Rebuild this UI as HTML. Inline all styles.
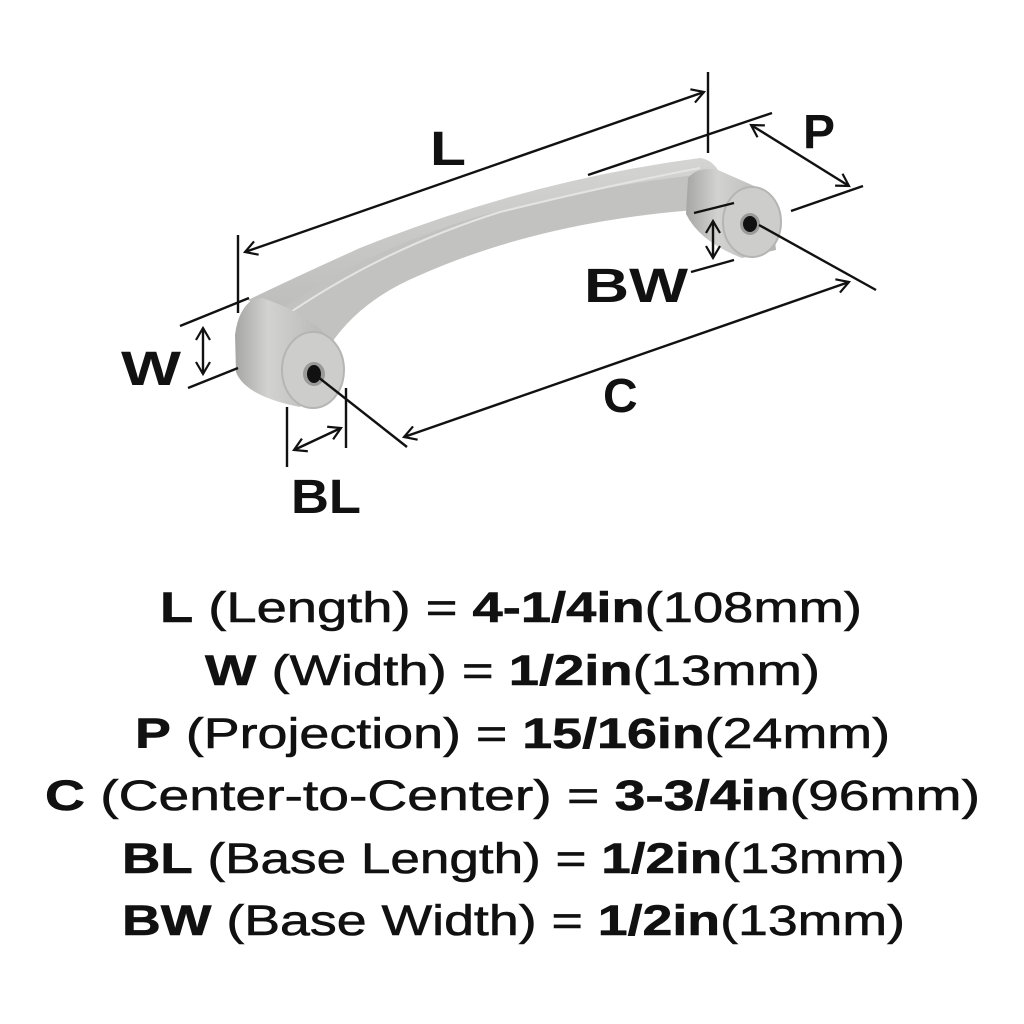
<!DOCTYPE html>
<html><head><meta charset="utf-8"><style>
html,body{margin:0;padding:0;background:#fff}
svg{display:block}
</style></head><body>
<svg width="1024" height="1024" viewBox="0 0 1024 1024" xmlns="http://www.w3.org/2000/svg">
<defs>
<linearGradient id="bar" x1="0" y1="0" x2="0" y2="1">
<stop offset="0" stop-color="#d4d4d2"/><stop offset="1" stop-color="#b8b8b6"/>
</linearGradient>
<linearGradient id="post" x1="0" y1="0" x2="1" y2="0">
<stop offset="0" stop-color="#a6a6a4"/><stop offset="0.35" stop-color="#d2d2d0"/><stop offset="1" stop-color="#b6b6b4"/>
</linearGradient>
<marker id="ah" markerWidth="16" markerHeight="16" refX="13" refY="8" orient="auto-start-reverse" markerUnits="userSpaceOnUse">
<path d="M1,1 L13,8 L1,15" fill="none" stroke="#111" stroke-width="2.2"/>
</marker>
</defs>
<!-- handle bar -->
<path d="M248,300 Q300,275 360,248 Q530,180 700,158 Q715,160 722,178 L700,206 Q540,222 420,275 Q360,300 330,345 L300,330 Z" fill="url(#bar)"/>
<path d="M272,316 Q360,252 480,216 Q600,185 705,174 L695,210 Q540,222 420,275 Q360,300 330,345 Z" fill="#c2c2c0"/>
<path d="M282,318 Q380,250 500,212 Q610,185 700,168" fill="none" stroke="#e4e4e2" stroke-width="2"/>
<!-- right post -->
<path d="M688,178 Q698,166 718,170 L770,193 L776,250 L742,258 Q700,242 686,214 Z" fill="url(#post)"/>
<ellipse cx="752" cy="222" rx="29" ry="35" fill="#cdcdcb" stroke="#b5b5b3" stroke-width="2"/>
<ellipse cx="750" cy="224" rx="10" ry="11" fill="#9a9a98"/>
<ellipse cx="750" cy="224" rx="7" ry="8" fill="#111"/>
<!-- left post -->
<path d="M252,300 Q238,310 235,335 L236,372 Q245,396 300,407 L330,340 Q310,314 262,298 Z" fill="url(#post)"/>
<ellipse cx="313" cy="370" rx="31" ry="38" fill="#cdcdcb" stroke="#b5b5b3" stroke-width="2"/>
<ellipse cx="314" cy="374" rx="11" ry="12" fill="#9a9a98"/>
<ellipse cx="314" cy="374" rx="7" ry="9" fill="#111"/>
<g stroke="#111" stroke-width="2.4" fill="none">
<line x1="245" y1="252" x2="704" y2="92" marker-start="url(#ah)" marker-end="url(#ah)"/>
<line x1="238" y1="235" x2="238" y2="313"/>
<line x1="708" y1="72" x2="708" y2="153"/>
<line x1="588" y1="175" x2="772" y2="113"/>
<line x1="751" y1="125" x2="849" y2="186" marker-start="url(#ah)" marker-end="url(#ah)"/>
<line x1="791" y1="211" x2="863" y2="186"/>
<line x1="694" y1="213" x2="734" y2="203"/>
<line x1="713" y1="221" x2="713" y2="258" marker-start="url(#ah)" marker-end="url(#ah)"/>
<line x1="691" y1="272" x2="734" y2="260"/>
<line x1="404" y1="437" x2="849" y2="282" marker-start="url(#ah)" marker-end="url(#ah)"/>
<line x1="759" y1="225" x2="876" y2="290"/>
<line x1="318" y1="377" x2="407" y2="447"/>
<line x1="180" y1="326" x2="249" y2="298"/>
<line x1="188" y1="388" x2="238" y2="368"/>
<line x1="203" y1="328" x2="203" y2="374" marker-start="url(#ah)" marker-end="url(#ah)"/>
<line x1="287" y1="407" x2="287" y2="467"/>
<line x1="346" y1="388" x2="346" y2="448"/>
<line x1="294" y1="450" x2="341" y2="428" marker-start="url(#ah)" marker-end="url(#ah)"/>
</g>
<g font-family="Liberation Sans, sans-serif" font-weight="bold" fill="#111" font-size="48">
<text x="430" y="165" textLength="36" lengthAdjust="spacingAndGlyphs">L</text>
<text x="803" y="148">P</text>
<text x="584" y="302" textLength="104" lengthAdjust="spacingAndGlyphs">BW</text>
<text x="121" y="385" textLength="60" lengthAdjust="spacingAndGlyphs">W</text>
<text x="603" y="412">C</text>
<text x="291" y="513" textLength="70" lengthAdjust="spacingAndGlyphs">BL</text>
</g>
<g font-family="Liberation Sans, sans-serif" fill="#111" font-size="43" stroke="#111" stroke-width="0.6">
<text x="160" y="622" textLength="702" lengthAdjust="spacingAndGlyphs"><tspan font-weight="bold">L</tspan> (Length) = <tspan font-weight="bold">4-1/4in</tspan>(108mm)</text>
<text x="205" y="685" textLength="615" lengthAdjust="spacingAndGlyphs"><tspan font-weight="bold">W</tspan> (Width) = <tspan font-weight="bold">1/2in</tspan>(13mm)</text>
<text x="135" y="748" textLength="755" lengthAdjust="spacingAndGlyphs"><tspan font-weight="bold">P</tspan> (Projection) = <tspan font-weight="bold">15/16in</tspan>(24mm)</text>
<text x="45" y="810" textLength="935" lengthAdjust="spacingAndGlyphs"><tspan font-weight="bold">C</tspan> (Center-to-Center) = <tspan font-weight="bold">3-3/4in</tspan>(96mm)</text>
<text x="122" y="873" textLength="783" lengthAdjust="spacingAndGlyphs"><tspan font-weight="bold">BL</tspan> (Base Length) = <tspan font-weight="bold">1/2in</tspan>(13mm)</text>
<text x="122" y="935" textLength="783" lengthAdjust="spacingAndGlyphs"><tspan font-weight="bold">BW</tspan> (Base Width) = <tspan font-weight="bold">1/2in</tspan>(13mm)</text>
</g>
</svg>
</body></html>
